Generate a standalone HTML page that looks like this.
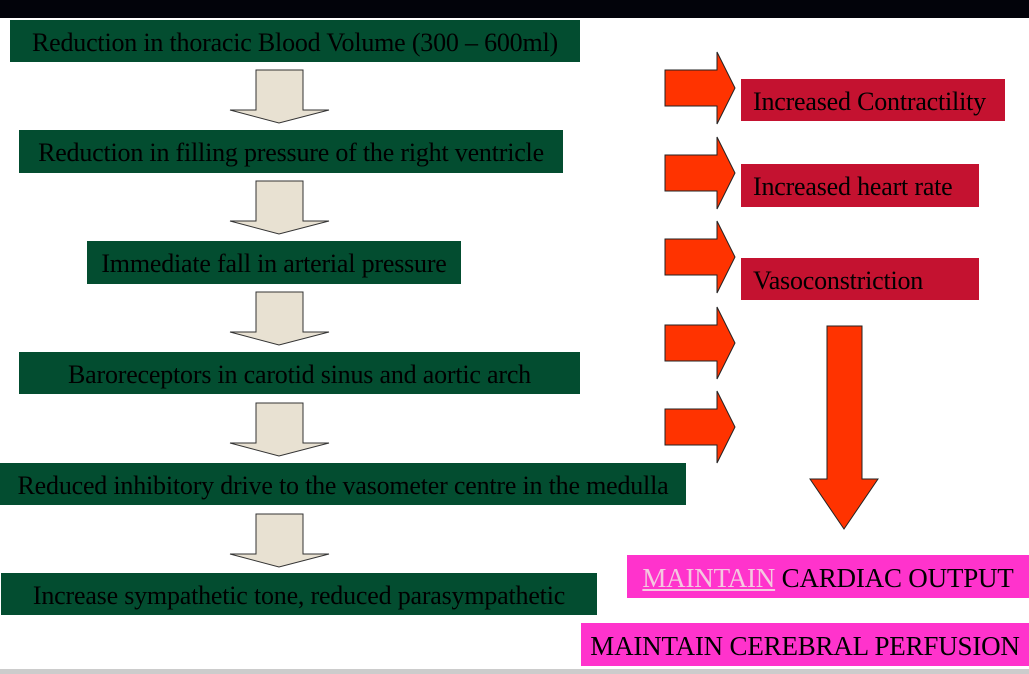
<!DOCTYPE html>
<html><head><meta charset="utf-8"><style>
body{margin:0;width:1029px;height:674px;background:#fff;position:relative;overflow:hidden;font-family:"Liberation Serif",serif;}
.b{position:absolute;display:flex;align-items:center;justify-content:center;font-size:26px;color:#000;white-space:nowrap;box-sizing:border-box;padding-top:3px;letter-spacing:-0.2px;}
.g{background:#034d30;}
.r{background:#c41230;justify-content:flex-start;padding-left:12px;}
.p{background:#ff33cc;font-size:27px;}
</style></head><body>
<div style="position:absolute;left:0;top:0;width:1029px;height:18px;background:#02030a"></div>
<div class="b g" style="left:10px;top:20px;width:570px;height:42px">Reduction in thoracic Blood Volume (300 – 600ml)</div>
<div class="b g" style="left:19px;top:130px;width:544px;height:43px">Reduction in filling pressure of the right ventricle</div>
<div class="b g" style="left:87px;top:241px;width:374px;height:43px">Immediate fall in arterial pressure</div>
<div class="b g" style="left:19px;top:352px;width:561px;height:42px">Baroreceptors in carotid sinus and aortic arch</div>
<div class="b g" style="left:0px;top:463px;width:686px;height:42px">Reduced inhibitory drive to the vasometer centre in the medulla</div>
<div class="b g" style="left:1px;top:573px;width:596px;height:42px">Increase sympathetic tone, reduced parasympathetic</div>
<div class="b r" style="left:741px;top:79px;width:264px;height:42px">Increased Contractility</div>
<div class="b r" style="left:741px;top:164px;width:238px;height:43px">Increased heart rate</div>
<div class="b r" style="left:741px;top:258px;width:238px;height:42px">Vasoconstriction</div>
<div class="b p" style="left:627px;top:555px;width:402px;height:43px"><span style="color:#f4c8e0;text-decoration:underline">MAINTAIN</span>&nbsp;CARDIAC OUTPUT</div>
<div class="b p" style="left:581px;top:623px;width:448px;height:43px">MAINTAIN CEREBRAL PERFUSION</div>
<div style="position:absolute;left:0;top:669px;width:1029px;height:5px;background:#ccc"></div>
<svg width="1029" height="674" style="position:absolute;left:0;top:0">
<g fill="#e8e1d2" stroke="#333" stroke-width="1">
<polygon points="256,70 303,70 303,110 329,110 279,123 230,110 256,110"/>
<polygon points="256,181 303,181 303,221 329,221 279,234 230,221 256,221"/>
<polygon points="256,292 303,292 303,332 329,332 279,345 230,332 256,332"/>
<polygon points="256,403 303,403 303,443 329,443 279,456 230,443 256,443"/>
<polygon points="256,514 303,514 303,554 329,554 279,567 230,554 256,554"/>
</g>
<g fill="#ff3300" stroke="#222" stroke-width="1">
<polygon points="665,70 717,70 717,52 735,88 717,124 717,106 665,106"/>
<polygon points="665,155 717,155 717,137 735,173 717,209 717,191 665,191"/>
<polygon points="665,239 717,239 717,221 735,257 717,293 717,275 665,275"/>
<polygon points="665,325 717,325 717,307 735,343 717,379 717,361 665,361"/>
<polygon points="665,409 717,409 717,391 735,427 717,463 717,445 665,445"/>
<polygon points="827,326 862,326 862,479 878,479 844,529 810,479 827,479"/>
</g>
</svg>
</body></html>
